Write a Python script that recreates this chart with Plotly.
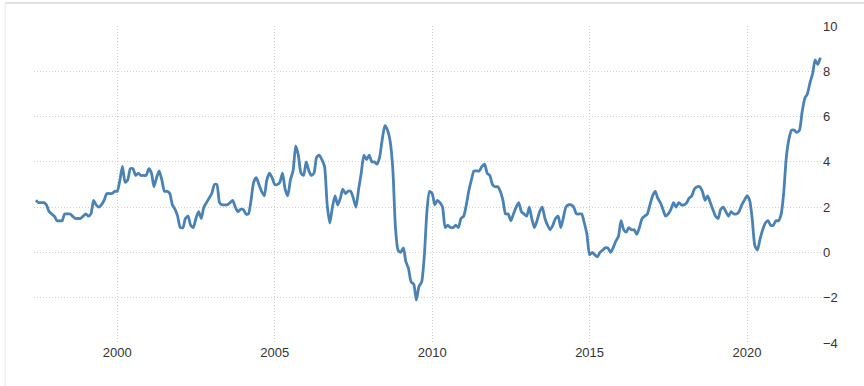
import plotly.graph_objects as go
import pandas as pd

start_month = "1997-06-01"
inflation = [
    # 1997 Jun-Dec
    2.3, 2.2, 2.2, 2.2, 2.1, 1.8, 1.7,
    # 1998
    1.6, 1.4, 1.4, 1.4, 1.7, 1.7, 1.7, 1.6, 1.5, 1.5, 1.5, 1.6,
    # 1999
    1.7, 1.6, 1.7, 2.3, 2.1, 2.0, 2.1, 2.3, 2.6, 2.6, 2.6, 2.7,
    # 2000
    2.7, 3.2, 3.8, 3.1, 3.2, 3.7, 3.7, 3.4, 3.5, 3.4, 3.4, 3.4,
    # 2001
    3.7, 3.5, 2.9, 3.3, 3.6, 3.2, 2.7, 2.7, 2.6, 2.1, 1.9, 1.6,
    # 2002
    1.1, 1.1, 1.5, 1.6, 1.2, 1.1, 1.5, 1.8, 1.5, 2.0, 2.2, 2.4,
    # 2003
    2.6, 3.0, 3.0, 2.2, 2.1, 2.1, 2.1, 2.2, 2.3, 2.0, 1.8, 1.9,
    # 2004
    1.9, 1.7, 1.7, 2.3, 3.1, 3.3, 3.0, 2.7, 2.5, 3.2, 3.5, 3.3,
    # 2005
    3.0, 3.0, 3.1, 3.5, 2.8, 2.5, 3.2, 3.6, 4.7, 4.3, 3.5, 3.4,
    # 2006
    4.0, 3.6, 3.4, 3.5, 4.2, 4.3, 4.1, 3.8, 2.1, 1.3, 2.0, 2.5,
    # 2007
    2.1, 2.4, 2.8, 2.6, 2.7, 2.7, 2.4, 2.0, 2.8, 3.5, 4.3, 4.1,
    # 2008
    4.3, 4.0, 4.0, 3.9, 4.2, 5.0, 5.6, 5.4, 4.9, 3.7, 1.1, 0.1,
    # 2009
    0.0, 0.2, -0.4, -0.7, -1.3, -1.4, -2.1, -1.5, -1.3, -0.2, 1.8, 2.7,
    # 2010
    2.6, 2.1, 2.3, 2.2, 2.0, 1.1, 1.2, 1.1, 1.1, 1.2, 1.1, 1.5,
    # 2011
    1.6, 2.1, 2.7, 3.2, 3.6, 3.6, 3.6, 3.8, 3.9, 3.5, 3.4, 3.0,
    # 2012
    2.9, 2.9, 2.7, 2.3, 1.7, 1.7, 1.4, 1.7, 2.0, 2.2, 1.8, 1.7,
    # 2013
    1.6, 2.0, 1.5, 1.1, 1.4, 1.8, 2.0, 1.5, 1.2, 1.0, 1.2, 1.5,
    # 2014
    1.6, 1.1, 1.5, 2.0, 2.1, 2.1, 2.0, 1.7, 1.7, 1.7, 1.3, 0.8,
    # 2015
    -0.1, 0.0, -0.1, -0.2, 0.0, 0.1, 0.2, 0.2, 0.0, 0.2, 0.5, 0.7,
    # 2016
    1.4, 1.0, 0.9, 1.1, 1.0, 1.0, 0.8, 1.1, 1.5, 1.6, 1.7, 2.1,
    # 2017
    2.5, 2.7, 2.4, 2.2, 1.9, 1.6, 1.7, 1.9, 2.2, 2.0, 2.2, 2.1,
    # 2018
    2.1, 2.2, 2.4, 2.5, 2.8, 2.9, 2.9, 2.7, 2.3, 2.5, 2.2, 1.9,
    # 2019
    1.6, 1.5, 1.9, 2.0, 1.8, 1.6, 1.8, 1.7, 1.7, 1.8, 2.1, 2.3,
    # 2020
    2.5, 2.3, 1.5, 0.3, 0.1, 0.6, 1.0, 1.3, 1.4, 1.2, 1.2, 1.4,
    # 2021
    1.4, 1.7, 2.6, 4.2, 5.0, 5.4, 5.4, 5.3, 5.4, 6.2, 6.8, 7.0,
    # 2022
    7.5, 7.9, 8.5, 8.3, 8.6,
]
dates = pd.date_range(start_month, periods=len(inflation), freq="MS")

year_ticks = ["2000-01-01", "2005-01-01", "2010-01-01", "2015-01-01", "2020-01-01"]
year_labels = ["2000", "2005", "2010", "2015", "2020"]
y_ticks = [-4, -2, 0, 2, 4, 6, 8, 10]

fig = go.Figure()
fig.add_trace(go.Scatter(
    x=dates, y=inflation, mode="lines",
    line=dict(color="#4a82b4", width=2.8, shape="spline", smoothing=0.6),
    hoverinfo="x+y",
))

font_family = "Liberation Sans Narrow, Arial Narrow, Liberation Sans, sans-serif"

fig.update_layout(
    width=864, height=386,
    margin=dict(l=34, r=42, t=26, b=43),
    paper_bgcolor="white", plot_bgcolor="white",
    showlegend=False,
    font=dict(family=font_family, size=13, color="#333333"),
    xaxis=dict(
        range=["1997-05-10", "2022-05-20"],
        tickvals=year_ticks, ticktext=year_labels,
        showgrid=True, gridcolor="#cfcfcf", griddash="1px,2px", gridwidth=1,
        zeroline=False, showline=False, ticks="",
        tickfont=dict(size=13, color="#333333"),
    ),
    yaxis=dict(
        range=[-4, 10], side="right",
        tickvals=y_ticks,
        showgrid=True, gridcolor="#cfcfcf", griddash="1px,2px", gridwidth=1,
        zeroline=False, showline=False, ticks="",
        tickfont=dict(size=13, color="#333333"),
    ),
    shapes=[
        dict(type="line", xref="paper", yref="paper",
             x0=(5 - 34) / 788, x1=(864 - 34) / 788,
             y0=(343 - 3) / 317, y1=(343 - 3) / 317,
             line=dict(color="#d9d9d9", width=1.5)),
        dict(type="line", xref="paper", yref="paper",
             x0=(5 - 34) / 788, x1=(5 - 34) / 788,
             y0=(343 - 3) / 317, y1=(343 - 386) / 317,
             line=dict(color="#e6e6e6", width=1)),
    ],
)

fig.write_html("out.html", config={"displayModeBar": False},
               post_script="document.body.style.margin='0';")
